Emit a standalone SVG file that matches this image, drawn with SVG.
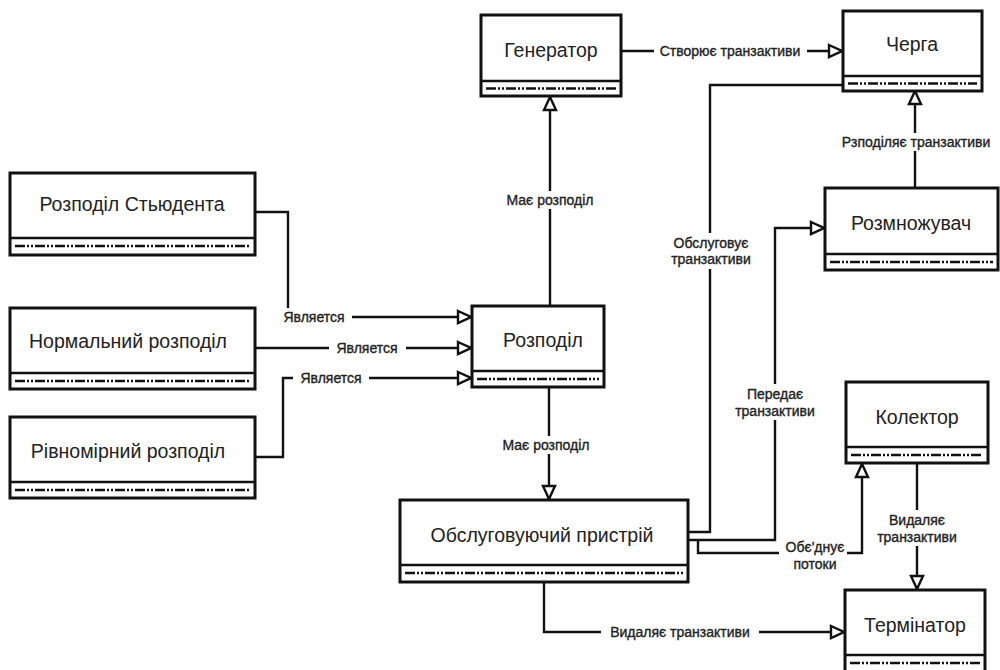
<svg xmlns="http://www.w3.org/2000/svg" width="1000" height="670" viewBox="0 0 1000 670">
<style>
.box{fill:#fff;stroke:#111;stroke-width:3}
.div{stroke:#111;stroke-width:2.5}
.dash{stroke:#111;stroke-width:2.5;stroke-dasharray:10 2 2 2 2 2}
.nt{font-family:"Liberation Sans",Arial,sans-serif;font-size:19.5px;fill:#222;text-anchor:middle;dominant-baseline:central}
.lt{font-family:"Liberation Sans",Arial,sans-serif;font-size:14px;fill:#222;stroke:#222;stroke-width:0.35;text-anchor:middle;dominant-baseline:central}
.ln{fill:none;stroke:#111;stroke-width:2.4}
.lbg{fill:#fff}
</style>
<defs>
<marker id="tri" markerUnits="userSpaceOnUse" viewBox="-2 -2 18 16" refX="15" refY="6" markerWidth="18" markerHeight="16" orient="auto">
<path d="M1,0 L14,6 L1,12 Z" fill="#fff" stroke="#111" stroke-width="2.4" stroke-linejoin="miter"/>
</marker>
</defs>
<rect width="1000" height="670" fill="#fff"/>

<g id="connectors">
<path class="ln" d="M621,51 H843" marker-end="url(#tri)"/>
<path class="ln" d="M550,306 V96" marker-end="url(#tri)"/>
<path class="ln" d="M549,387 V500" marker-end="url(#tri)"/>
<path class="ln" d="M255,212 H288 V317 H472" marker-end="url(#tri)"/>
<path class="ln" d="M255,348 H472" marker-end="url(#tri)"/>
<path class="ln" d="M255,457 H283 V378 H472" marker-end="url(#tri)"/>
<path class="ln" d="M544,582 V632 H845" marker-end="url(#tri)"/>
<path class="ln" d="M917,463 V590" marker-end="url(#tri)"/>
<path class="ln" d="M698,540 V553 H862 V463" marker-end="url(#tri)"/>
<path class="ln" d="M688,540 H775 V228 H825" marker-end="url(#tri)"/>
<path class="ln" d="M688,532 H710 V85 H843"/>
<path class="ln" d="M915,188 V90" marker-end="url(#tri)"/>

<rect class="lbg" x="654" y="42" width="153" height="18"/>
<text class="lt" x="730" y="51">Створює транзактиви</text>
<rect class="lbg" x="503" y="191" width="94" height="18"/>
<text class="lt" x="550" y="200">Має розподіл</text>
<rect class="lbg" x="499" y="436" width="94" height="18"/>
<text class="lt" x="546" y="445">Має розподіл</text>
<rect class="lbg" x="276" y="308" width="76" height="18"/>
<text class="lt" x="314" y="317">Является</text>
<rect class="lbg" x="329" y="339" width="77" height="18"/>
<text class="lt" x="367" y="348">Является</text>
<rect class="lbg" x="293" y="369" width="76" height="18"/>
<text class="lt" x="331" y="378">Является</text>
<rect class="lbg" x="601" y="623" width="158" height="18"/>
<text class="lt" x="680" y="632">Видаляє транзактиви</text>
<rect class="lbg" x="875" y="510" width="84" height="36"/>
<text class="lt" x="917" y="520">Видаляє</text>
<text class="lt" x="917" y="537">транзактиви</text>
<rect class="lbg" x="779" y="538" width="68" height="34"/>
<text class="lt" x="815" y="547">Обє'днує</text>
<text class="lt" x="815" y="564">потоки</text>
<rect class="lbg" x="733" y="384" width="84" height="36"/>
<text class="lt" x="775" y="394">Передає</text>
<text class="lt" x="775" y="411">транзактиви</text>
<rect class="lbg" x="668" y="233" width="86" height="36"/>
<text class="lt" x="711" y="243">Обслуговує</text>
<text class="lt" x="711" y="259">транзактиви</text>
<rect class="lbg" x="838" y="133" width="156" height="18"/>
<text class="lt" x="916" y="142">Рзподіляє транзактиви</text>
</g>

<g id="n-generator">
<rect class="box" x="481" y="15" width="140" height="81"/>
<line class="div" x1="481" y1="81" x2="621" y2="81"/>
<line class="dash" x1="486" y1="88.5" x2="616" y2="88.5"/>
<text class="nt" x="551" y="50">Генератор</text>
</g>
<g id="n-cherha">
<rect class="box" x="843" y="11" width="139" height="80"/>
<line class="div" x1="843" y1="76" x2="982" y2="76"/>
<line class="dash" x1="848" y1="83.5" x2="977" y2="83.5"/>
<text class="nt" x="912" y="44">Черга</text>
</g>
<g id="n-student">
<rect class="box" x="10" y="173" width="245" height="82"/>
<line class="div" x1="10" y1="238" x2="255" y2="238"/>
<line class="dash" x1="15" y1="246" x2="250" y2="246"/>
<text class="nt" x="132" y="204">Розподіл Стьюдента</text>
</g>
<g id="n-normal">
<rect class="box" x="10" y="308" width="245" height="81"/>
<line class="div" x1="10" y1="373" x2="255" y2="373"/>
<line class="dash" x1="15" y1="381" x2="250" y2="381"/>
<text class="nt" x="128" y="341">Нормальний розподіл</text>
</g>
<g id="n-uniform">
<rect class="box" x="10" y="417" width="245" height="81"/>
<line class="div" x1="10" y1="482" x2="255" y2="482"/>
<line class="dash" x1="15" y1="490" x2="250" y2="490"/>
<text class="nt" x="128" y="451">Рівномірний розподіл</text>
</g>
<g id="n-rozpodil">
<rect class="box" x="472" y="306" width="132" height="81"/>
<line class="div" x1="472" y1="371" x2="604" y2="371"/>
<line class="dash" x1="477" y1="379" x2="599" y2="379"/>
<text class="nt" x="543" y="340">Розподіл</text>
</g>
<g id="n-server">
<rect class="box" x="400" y="500" width="288" height="82"/>
<line class="div" x1="400" y1="565" x2="688" y2="565"/>
<line class="dash" x1="405" y1="573" x2="683" y2="573"/>
<text class="nt" x="542" y="535">Обслуговуючий пристрій</text>
</g>
<g id="n-splitter">
<rect class="box" x="825" y="188" width="173" height="82"/>
<line class="div" x1="825" y1="254" x2="998" y2="254"/>
<line class="dash" x1="830" y1="262" x2="993" y2="262"/>
<text class="nt" x="911" y="223">Розмножувач</text>
</g>
<g id="n-collector">
<rect class="box" x="846" y="382" width="142" height="81"/>
<line class="div" x1="846" y1="447" x2="988" y2="447"/>
<line class="dash" x1="851" y1="455" x2="983" y2="455"/>
<text class="nt" x="917" y="417">Колектор</text>
</g>
<g id="n-terminator">
<rect class="box" x="845" y="590" width="140" height="82"/>
<line class="div" x1="845" y1="655" x2="985" y2="655"/>
<line class="dash" x1="850" y1="663" x2="980" y2="663"/>
<text class="nt" x="915" y="625">Термінатор</text>
</g>
</svg>
